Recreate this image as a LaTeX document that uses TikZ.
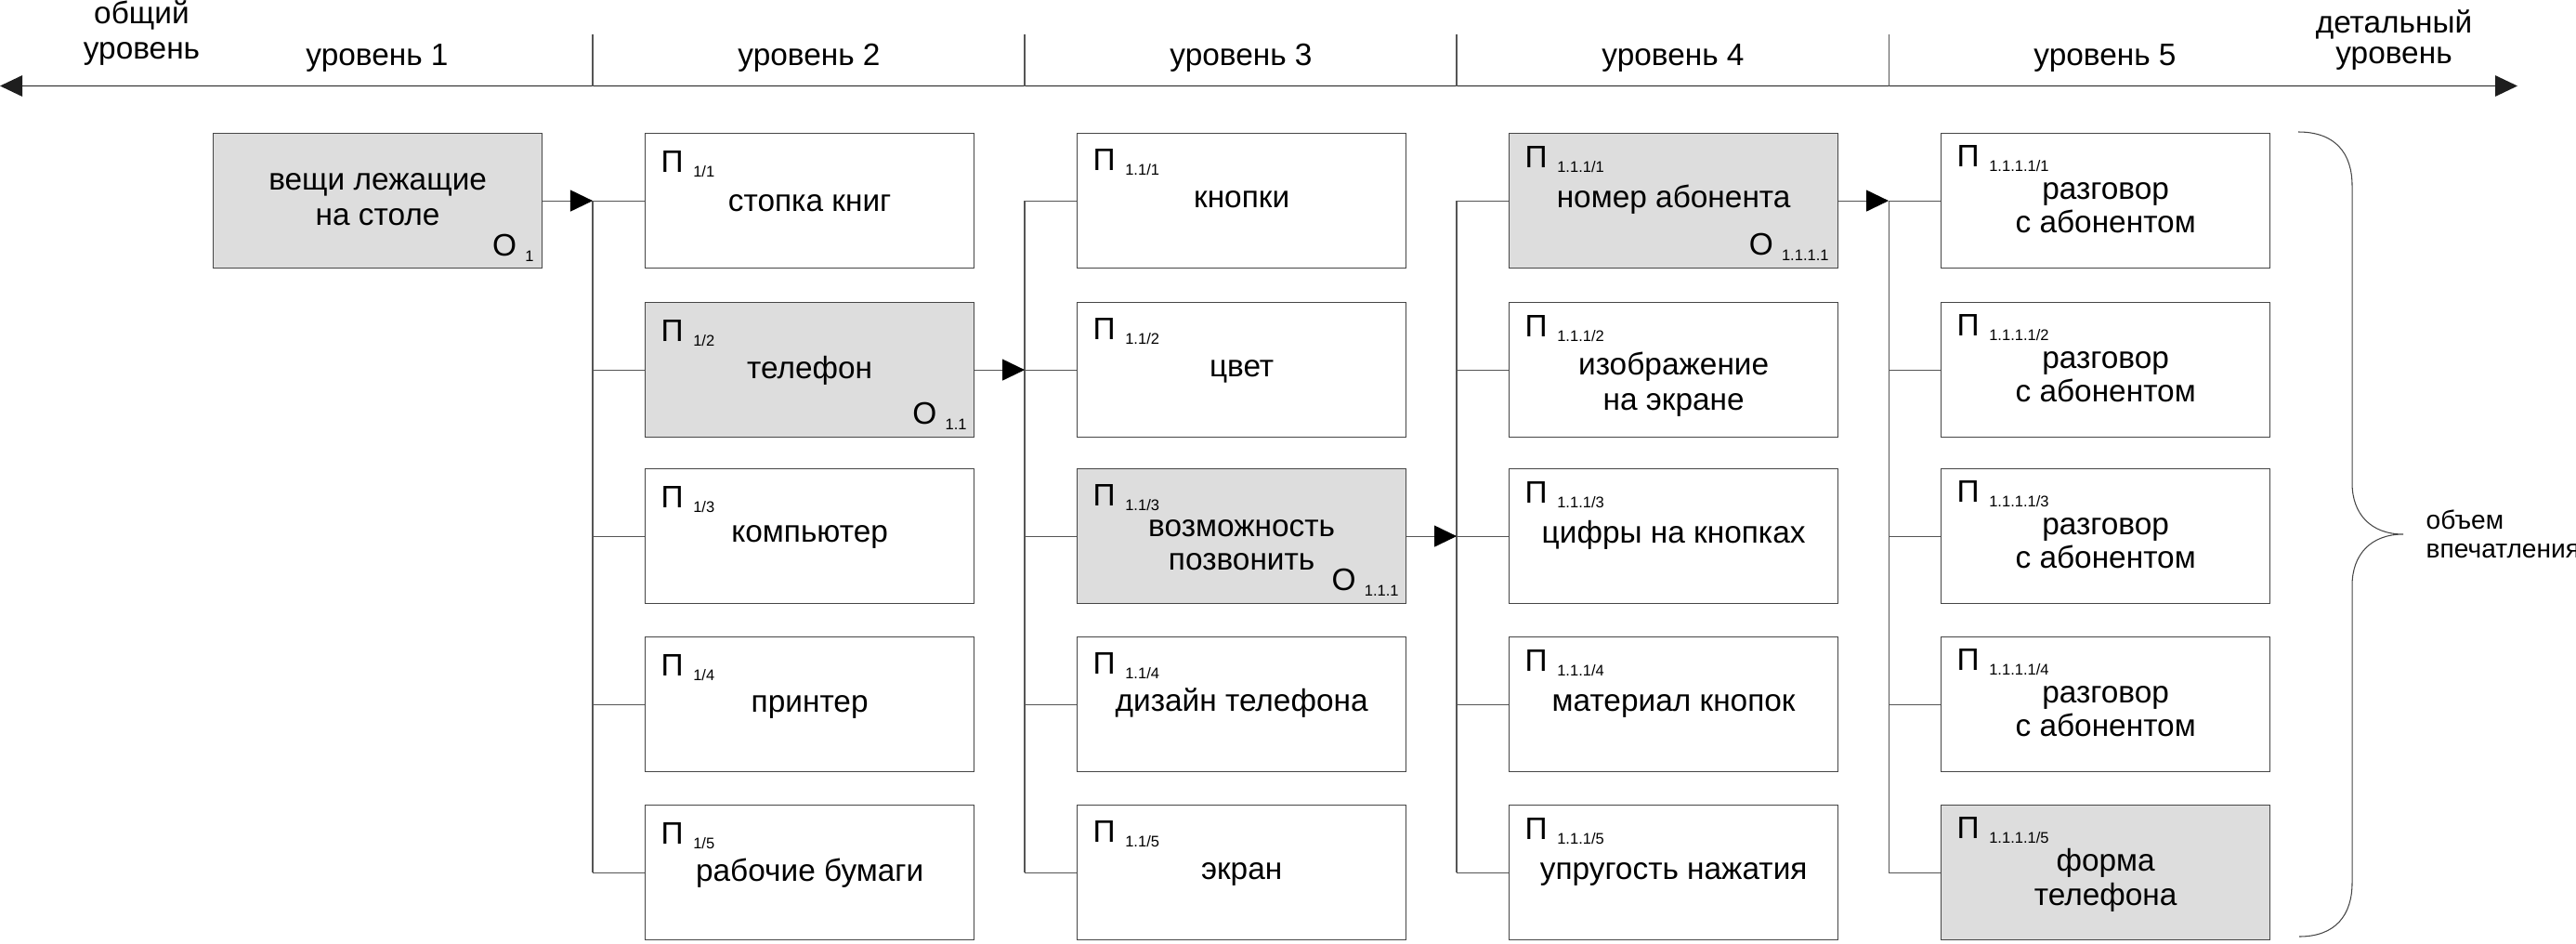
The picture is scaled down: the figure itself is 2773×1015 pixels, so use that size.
\documentclass[tikz,border=0pt]{standalone}
\usepackage{fontspec}
\setmainfont{Liberation Sans}
\usetikzlibrary{arrows.meta,calc}
\definecolor{boxline}{RGB}{70,70,70}
\definecolor{connline}{RGB}{85,85,85}
\definecolor{boxfill}{RGB}{221,221,221}
\definecolor{axiscol}{RGB}{30,30,30}
\newcommand\psub[1]{\hspace{3pt}\raisebox{-1.6pt}{\fontsize{4.7pt}{5pt}\selectfont #1}}
\newcommand\osub[1]{\hspace{2.6pt}\raisebox{-1.7pt}{\fontsize{4.7pt}{5pt}\selectfont #1}}
\tikzset{
  boxw/.style={draw=boxline, line width=0.3pt, fill=white, rectangle, minimum width=3.54cm, minimum height=1.45cm, inner sep=0pt, anchor=north west},
  boxg/.style={boxw, fill=boxfill},
  txt/.style={inner sep=0pt, anchor=base, font=\fontsize{9.5pt}{11pt}\selectfont, text=black},
  plab/.style={inner sep=0pt, anchor=base west, font=\fontsize{9.5pt}{11pt}\selectfont, text=black},
  olab/.style={inner sep=0pt, anchor=base east, font=\fontsize{9.5pt}{11pt}\selectfont, text=black},
  voltxt/.style={inner sep=0pt, anchor=base west, font=\fontsize{8pt}{9pt}\selectfont, text=black},
  conn/.style={draw=connline, line width=0.3pt},
  feed/.style={conn, -{Triangle[length=0.24cm,width=0.23cm,color=black,fill=black]}},
  axisline/.style={draw=axiscol, line width=0.45pt, {Triangle[length=0.24cm,width=0.225cm]}-{Triangle[length=0.24cm,width=0.225cm]}},
  tickline/.style={draw=connline, line width=0.3pt},
  bracel/.style={draw=boxline, line width=0.3pt},
}
% #1 name, #2 style, #3 x, #4 y, #5 P-baseline offset, #6 subscript
\newcommand\mkbox[6]{%
  \node[#2] (#1) at (#3,#4) {};
  \node[plab] (#1p) at ($(#1.north west)+(17,#5)$) {П\psub{#6}};
}
\begin{document}
\begin{tikzpicture}[x=0.01cm,y=-0.01cm]
\useasboundingbox (0,0) rectangle (2773,1015);

% ---- axis and header
\coordinate (axL) at (0,92.5);
\coordinate (axR) at (2710,92.5);
\draw[axisline] (axL) -- (axR);
\coordinate (x2) at (638,0);
\coordinate (x3) at (1103,0);
\coordinate (x4) at (1568,0);
\coordinate (x5) at (2033,0);
\foreach \c in {x2,x3,x4,x5}{
  \draw[tickline] ($(\c)+(0,37)$) -- (\c |- axL);
}
\node[txt] (h1) at (406,70.5) {уровень 1};
\node[txt] (h2) at (871,70.5) {уровень 2};
\node[txt] (h3) at (1336,70.5) {уровень 3};
\node[txt] (h4) at (1801,70.5) {уровень 4};
\node[txt] (h5) at (2266,70.5) {уровень 5};
\node[txt] (gen1) at (152.5,25) {общий};
\node[txt] (gen2) at (152.5,63) {уровень};
\node[txt] (det1) at (2577,35) {детальный};
\node[txt] (det2) at (2577,68) {уровень};

% ---- level 1
\node[boxg] (b1) at (229,143) {};
\node[txt] (b1t1) at ($(b1.north)+(0,61)$) {вещи лежащие};
\node[txt] (b1t2) at ($(b1.north)+(0,99)$) {на столе};
\node[olab] (b1o) at ($(b1.south east)+(-9,-14)$) {О\osub{1}};

% ---- level 2
\mkbox{b21}{boxw}{694}{143}{42}{1/1}
\mkbox{b22}{boxg}{694}{325}{42}{1/2}
\mkbox{b23}{boxw}{694}{504}{42}{1/3}
\mkbox{b24}{boxw}{694}{685}{42}{1/4}
\mkbox{b25}{boxw}{694}{866}{42}{1/5}
\node[txt] (b21t) at ($(b21.north)+(0,84)$) {стопка книг};
\node[txt] (b22t) at ($(b22.north)+(0,82)$) {телефон};
\node[olab] (b22o) at ($(b22.south east)+(-8,-15)$) {О\osub{1.1}};
\node[txt] (b23t) at ($(b23.north)+(0,79)$) {компьютер};
\node[txt] (b24t) at ($(b24.north)+(0,81)$) {принтер};
\node[txt] (b25t) at ($(b25.north)+(0,82)$) {рабочие бумаги};

% ---- level 3
\mkbox{b31}{boxw}{1159}{143}{40}{1.1/1}
\mkbox{b32}{boxw}{1159}{325}{40}{1.1/2}
\mkbox{b33}{boxg}{1159}{504}{40}{1.1/3}
\mkbox{b34}{boxw}{1159}{685}{40}{1.1/4}
\mkbox{b35}{boxw}{1159}{866}{40}{1.1/5}
\node[txt] (b31t) at ($(b31.north)+(0,80)$) {кнопки};
\node[txt] (b32t) at ($(b32.north)+(0,80)$) {цвет};
\node[txt] (b33t1) at ($(b33.north)+(0,73)$) {возможность};
\node[txt] (b33t2) at ($(b33.north)+(0,109)$) {позвонить};
\node[olab] (b33o) at ($(b33.south east)+(-8,-15)$) {О\osub{1.1.1}};
\node[txt] (b34t) at ($(b34.north)+(0,80)$) {дизайн телефона};
\node[txt] (b35t) at ($(b35.north)+(0,80)$) {экран};

% ---- level 4
\mkbox{b41}{boxg}{1624}{143}{37}{1.1.1/1}
\mkbox{b42}{boxw}{1624}{325}{37}{1.1.1/2}
\mkbox{b43}{boxw}{1624}{504}{37}{1.1.1/3}
\mkbox{b44}{boxw}{1624}{685}{37}{1.1.1/4}
\mkbox{b45}{boxw}{1624}{866}{37}{1.1.1/5}
\node[txt] (b41t) at ($(b41.north)+(0,80)$) {номер абонента};
\node[olab] (b41o) at ($(b41.south east)+(-10,-15)$) {О\osub{1.1.1.1}};
\node[txt] (b42t1) at ($(b42.north)+(0,78)$) {изображение};
\node[txt] (b42t2) at ($(b42.north)+(0,116)$) {на экране};
\node[txt] (b43t) at ($(b43.north)+(0,80)$) {цифры на кнопках};
\node[txt] (b44t) at ($(b44.north)+(0,80)$) {материал кнопок};
\node[txt] (b45t) at ($(b45.north)+(0,80)$) {упругость нажатия};

% ---- level 5
\mkbox{b51}{boxw}{2089}{143}{36}{1.1.1.1/1}
\mkbox{b52}{boxw}{2089}{325}{36}{1.1.1.1/2}
\mkbox{b53}{boxw}{2089}{504}{36}{1.1.1.1/3}
\mkbox{b54}{boxw}{2089}{685}{36}{1.1.1.1/4}
\mkbox{b55}{boxg}{2089}{866}{36}{1.1.1.1/5}
\foreach \n in {b51,b52,b53,b54}{
  \node[txt] at ($(\n.north)+(0,71)$) {разговор};
  \node[txt] at ($(\n.north)+(0,107)$) {с абонентом};
}
\node[txt] (b55t1) at ($(b55.north)+(0,71)$) {форма};
\node[txt] (b55t2) at ($(b55.north)+(0,108)$) {телефона};

% ---- buses and connectors
\draw[conn] (b21.west -| x2) -- (b25.west -| x2);
\draw[conn] (b31.west -| x3) -- (b35.west -| x3);
\draw[conn] (b41.west -| x4) -- (b45.west -| x4);
\draw[conn] (b51.west -| x5) -- (b55.west -| x5);
\foreach \r in {1,...,5}{
  \draw[conn] (b2\r.west -| x2) -- (b2\r.west);
  \draw[conn] (b3\r.west -| x3) -- (b3\r.west);
  \draw[conn] (b4\r.west -| x4) -- (b4\r.west);
  \draw[conn] (b5\r.west -| x5) -- (b5\r.west);
}
\draw[feed] (b1.east) -- (b1.east -| x2);
\draw[feed] (b22.east) -- (b22.east -| x3);
\draw[feed] (b33.east) -- (b33.east -| x4);
\draw[feed] (b41.east) -- (b41.east -| x5);

% ---- brace
\coordinate (brT) at (2474,142);
\coordinate (brM) at (2587,575);
\coordinate (brB) at (2475,1008);
\draw[bracel] (brT) .. controls (2514,142) and (2532,165) .. (2532,200)
  -- (2532,520) .. controls (2532,553) and (2552,575) .. (brM)
  .. controls (2552,575) and (2532,597) .. (2532,630)
  -- (2532,950) .. controls (2532,985) and (2514,1008) .. (brB);
\node[voltxt] (vol1) at (2611,569) {объем};
\node[voltxt] (vol2) at (2611,600) {впечатления};
\end{tikzpicture}
\end{document}
